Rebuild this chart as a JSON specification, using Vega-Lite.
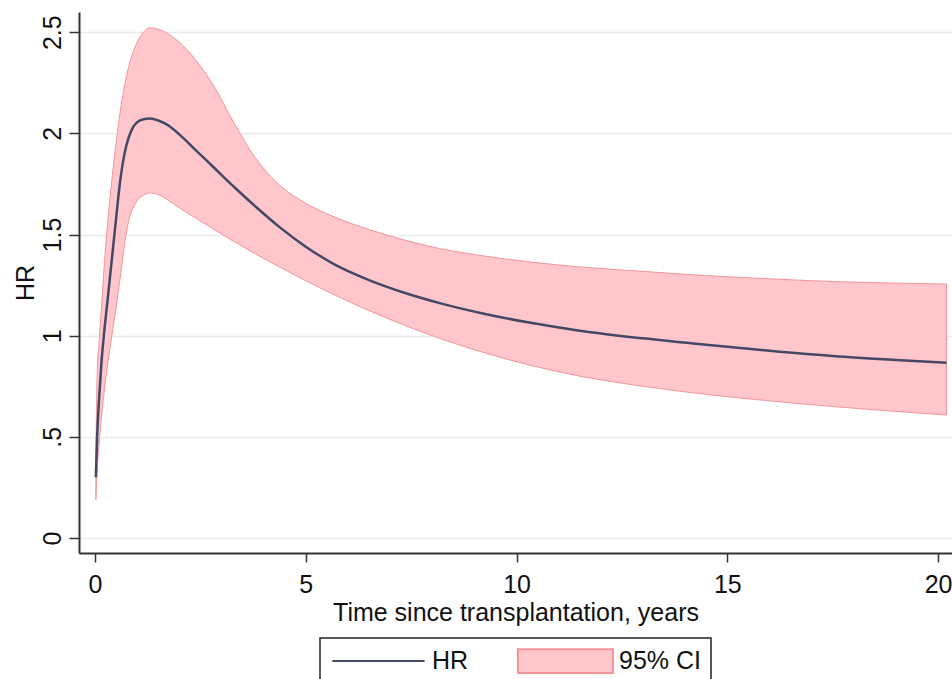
{
  "$schema": "https://vega.github.io/schema/vega-lite/v6.json",
  "autosize": {"type": "none"},
  "width": 873,
  "height": 541,
  "padding": {"left": 79, "top": 12, "right": 0, "bottom": 126},
  "background": "white",
  "config": {
    "view": {"stroke": null},
    "font": "Liberation Sans",
    "axis": {
      "labelFont": "Liberation Sans",
      "titleFont": "Liberation Sans",
      "labelFontSize": 25,
      "titleFontSize": 25,
      "titleFontWeight": "normal",
      "labelColor": "#111",
      "titleColor": "#111",
      "domainColor": "#333",
      "domainWidth": 2,
      "tickColor": "#333",
      "tickWidth": 1.5
    },
    "legend": {
      "labelFont": "Liberation Sans",
      "symbolStrokeWidth": 2,
      "strokeWidth": 1.5
    }
  },
  "data": {
    "values": [
      {"t": 0.02, "hr": 0.30, "lo": 0.19, "hi": 0.42},
      {"t": 0.05, "hr": 0.50, "lo": 0.33, "hi": 0.80},
      {"t": 0.1, "hr": 0.70, "lo": 0.47, "hi": 0.98},
      {"t": 0.15, "hr": 0.86, "lo": 0.59, "hi": 1.13},
      {"t": 0.2, "hr": 0.98, "lo": 0.69, "hi": 1.29},
      {"t": 0.3, "hr": 1.18, "lo": 0.86, "hi": 1.56},
      {"t": 0.4, "hr": 1.38, "lo": 1.00, "hi": 1.77},
      {"t": 0.5, "hr": 1.58, "lo": 1.14, "hi": 1.955},
      {"t": 0.6, "hr": 1.77, "lo": 1.29, "hi": 2.11},
      {"t": 0.7, "hr": 1.90, "lo": 1.45, "hi": 2.235},
      {"t": 0.8, "hr": 1.98, "lo": 1.57, "hi": 2.33},
      {"t": 0.9, "hr": 2.03, "lo": 1.63, "hi": 2.40},
      {"t": 1.0, "hr": 2.055, "lo": 1.668, "hi": 2.45},
      {"t": 1.15, "hr": 2.07, "lo": 1.695, "hi": 2.50},
      {"t": 1.3, "hr": 2.073, "lo": 1.706, "hi": 2.522},
      {"t": 1.5, "hr": 2.064, "lo": 1.697, "hi": 2.515},
      {"t": 1.75, "hr": 2.038, "lo": 1.668, "hi": 2.49},
      {"t": 2.0, "hr": 1.995, "lo": 1.632, "hi": 2.45},
      {"t": 2.4, "hr": 1.915, "lo": 1.58, "hi": 2.36},
      {"t": 2.8, "hr": 1.835, "lo": 1.528, "hi": 2.24},
      {"t": 3.3, "hr": 1.735, "lo": 1.465, "hi": 2.05},
      {"t": 3.8, "hr": 1.64, "lo": 1.405, "hi": 1.88},
      {"t": 4.4, "hr": 1.533, "lo": 1.337, "hi": 1.74},
      {"t": 5.0, "hr": 1.44, "lo": 1.272, "hi": 1.655},
      {"t": 5.7, "hr": 1.35, "lo": 1.2, "hi": 1.585},
      {"t": 6.5, "hr": 1.275, "lo": 1.124, "hi": 1.525},
      {"t": 7.3, "hr": 1.215, "lo": 1.055, "hi": 1.475},
      {"t": 8.2, "hr": 1.16, "lo": 0.985, "hi": 1.43},
      {"t": 9.2, "hr": 1.11, "lo": 0.918, "hi": 1.395},
      {"t": 10.3, "hr": 1.065, "lo": 0.855, "hi": 1.365},
      {"t": 11.5, "hr": 1.025, "lo": 0.8, "hi": 1.34},
      {"t": 13, "hr": 0.987, "lo": 0.75, "hi": 1.318},
      {"t": 14.5, "hr": 0.955, "lo": 0.71, "hi": 1.297},
      {"t": 16, "hr": 0.926, "lo": 0.678, "hi": 1.281},
      {"t": 17.5, "hr": 0.9, "lo": 0.65, "hi": 1.268},
      {"t": 19, "hr": 0.88, "lo": 0.626, "hi": 1.26},
      {"t": 20.2, "hr": 0.866, "lo": 0.608, "hi": 1.255}
    ]
  },
  "encoding": {
    "x": {
      "field": "t",
      "type": "quantitative",
      "scale": {"domain": [-0.38, 20.33], "nice": false, "zero": false},
      "axis": {
        "values": [0, 5, 10, 15, 20],
        "title": "Time since transplantation, years",
        "grid": false,
        "tickSize": 9,
        "labelPadding": 10,
        "titlePadding": 3,
        "labelFlush": false,
        "format": "d"
      }
    }
  },
  "layer": [
    {
      "mark": {"type": "area", "interpolate": "monotone", "stroke": "#f2959b", "strokeWidth": 1, "opacity": 1},
      "encoding": {
        "y": {
          "field": "lo",
          "type": "quantitative",
          "scale": {"domain": [-0.074, 2.6], "nice": false, "zero": false},
          "axis": {
            "values": [0, 0.5, 1, 1.5, 2, 2.5],
            "title": "HR",
            "grid": true,
            "gridColor": "#ebebeb",
            "gridWidth": 1.5,
            "tickSize": 10,
            "labelAngle": -90,
            "labelAlign": "center",
            "labelBaseline": "alphabetic",
            "labelPadding": 9,
            "titlePadding": 2,
            "labelExpr": "datum.value == 0.5 ? '.5' : format(datum.value, '~g')"
          }
        },
        "y2": {"field": "hi"},
        "fill": {
          "datum": "95% CI",
          "scale": {"domain": ["HR", "95% CI"], "range": ["transparent", "#ffc7cc"]},
          "legend": {
            "title": null,
            "orient": "none",
            "legendX": 241,
            "legendY": 626,
            "direction": "horizontal",
            "symbolSize": 9025,
            "clipHeight": 26,
            "labelOffset": 5,
            "columnPadding": 48,
            "labelFontSize": 25,
            "labelColor": "#111",
            "labelBaseline": "middle",
            "padding": 10,
            "strokeColor": "#222",
            "fillColor": "white"
          }
        }
      }
    },
    {
      "mark": {"type": "line", "interpolate": "monotone", "strokeWidth": 2.5},
      "encoding": {
        "y": {"field": "hr", "type": "quantitative"},
        "stroke": {
          "datum": "HR",
          "scale": {"domain": ["HR", "95% CI"], "range": ["#434866", "#f2959b"]},
          "legend": {
            "title": null,
            "orient": "none",
            "legendX": 241,
            "legendY": 626,
            "direction": "horizontal",
            "symbolSize": 9025,
            "clipHeight": 26,
            "labelOffset": 5,
            "columnPadding": 48,
            "labelFontSize": 25,
            "labelColor": "#111",
            "labelBaseline": "middle",
            "padding": 10,
            "strokeColor": "#222",
            "fillColor": "white"
          }
        }
      }
    },
    {
      "transform": [{"filter": "false"}],
      "mark": {"type": "point"},
      "encoding": {
        "y": {"field": "hr", "type": "quantitative"},
        "shape": {
          "datum": "HR",
          "scale": {"domain": ["HR", "95% CI"], "range": ["M-0.97,0H0.97", "M-1,-0.25H1V0.25H-1Z"]},
          "legend": {
            "title": null,
            "orient": "none",
            "legendX": 241,
            "legendY": 626,
            "direction": "horizontal",
            "symbolSize": 9025,
            "clipHeight": 26,
            "labelOffset": 5,
            "columnPadding": 48,
            "labelFontSize": 25,
            "labelColor": "#111",
            "labelBaseline": "middle",
            "padding": 10,
            "strokeColor": "#222",
            "fillColor": "white"
          }
        }
      }
    }
  ]
}
